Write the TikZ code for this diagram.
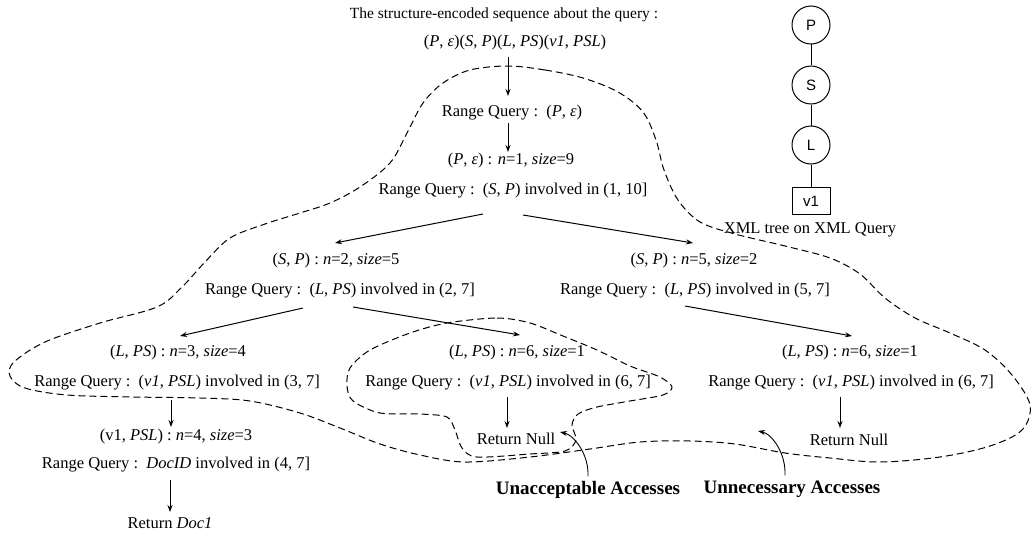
\documentclass[tikz,border=0pt]{standalone}
\usepackage{fontspec}
\setmainfont{Liberation Serif}
\newfontfamily\sansf{Liberation Sans}
\usetikzlibrary{arrows.meta,calc}
\tikzset{
  txt/.style={inner sep=0pt,font=\fontsize{16.5}{19}\selectfont,text height=11.5pt,text depth=3.5pt},
  lbl/.style={inner sep=0pt,font=\fontsize{19}{22}\selectfont\bfseries,text height=13pt,text depth=4pt},
  arr/.style={-{Stealth[length=7pt,width=5pt]},line width=1pt},
  lasso/.style={line width=1pt,dash pattern=on 7pt off 4pt},
  tnode/.style={circle,draw,line width=1pt,minimum size=38pt,inner sep=0pt,font=\sansf\fontsize{15}{17}\selectfont},
  leaf/.style={rectangle,draw,line width=1pt,minimum width=38pt,minimum height=27pt,inner sep=0pt,font=\sansf\fontsize{15}{17}\selectfont},
  edge/.style={line width=1pt}
}
\begin{document}
\begin{tikzpicture}[x=1pt,y=-1pt]
\useasboundingbox (0,0) rectangle (1034,543);
% texts
\node[txt,font=\fontsize{15.5}{18}\selectfont] (title) at (504,15) {The structure-encoded sequence about the query :};
\node[txt] (seq) at (515,43) {(\textit{P}, \textit{ε})(\textit{S}, \textit{P})(\textit{L}, \textit{PS})(\textit{v1}, \textit{PSL})};
\node[txt] (rq0) at (512,113) {Range Query :\ \ (\textit{P}, \textit{ε})};
\node[txt] (n1) at (511,160) {(\textit{P}, \textit{ε}) : \textit{n}=1, \textit{size}=9};
\node[txt] (rq1) at (513,190) {Range Query :\ \ (\textit{S}, \textit{P}) involved in (1, 10]};
\node[txt] (sp2) at (336,260) {(\textit{S}, \textit{P}) : \textit{n}=2, \textit{size}=5};
\node[txt] (rqL) at (340,290) {Range Query :\ \ (\textit{L}, \textit{PS}) involved in (2, 7]};
\node[txt] (sp5) at (694,260) {(\textit{S}, \textit{P}) : \textit{n}=5, \textit{size}=2};
\node[txt] (rqR) at (695,290) {Range Query :\ \ (\textit{L}, \textit{PS}) involved in (5, 7]};
\node[txt] (lpsL) at (178,352) {(\textit{L}, \textit{PS}) : \textit{n}=3, \textit{size}=4};
\node[txt] (rqLL) at (177,382) {Range Query :\ \ (\textit{v1}, \textit{PSL}) involved in (3, 7]};
\node[txt] (lpsM) at (517,352) {(\textit{L}, \textit{PS}) : \textit{n}=6, \textit{size}=1};
\node[txt] (rqM) at (508,382) {Range Query :\ \ (\textit{v1}, \textit{PSL}) involved in (6, 7]};
\node[txt] (lpsR) at (850,352) {(\textit{L}, \textit{PS}) : \textit{n}=6, \textit{size}=1};
\node[txt] (rqR2) at (851,382) {Range Query :\ \ (\textit{v1}, \textit{PSL}) involved in (6, 7]};
\node[txt] (v1n) at (176,436) {(v1, \textit{PSL}) : \textit{n}=4, \textit{size}=3};
\node[txt] (docq) at (176,464) {Range Query :\ \ \textit{DocID} involved in (4, 7]};
\node[txt] (doc1) at (170,524) {Return \textit{Doc1}};
\node[txt] (nullM) at (516,440) {Return Null};
\node[txt] (nullR) at (849,441) {Return Null};
\node[lbl] (unacc) at (588,490) {Unacceptable Accesses};
\node[lbl] (unnec) at (792,489) {Unnecessary Accesses};
% arrows
\draw[arr] ($(seq.center)+(-7,14)$) -- ($(rq0.center)+(-4,-17)$);
\draw[arr] ($(rq0.center)+(-4,10)$) -- ($(n1.center)+(-3,-8)$);
\draw[arr] ($(rq1.center)+(-30,24)$) -- ($(sp2.center)+(-1,-17)$);
\draw[arr] ($(rq1.center)+(10,25)$) -- ($(sp5.center)+(-1,-17)$);
\draw[arr] ($(rqL.center)+(-37,18)$) -- ($(lpsL.center)+(2,-16)$);
\draw[arr] ($(rqL.center)+(13,17)$) -- ($(lpsM.center)+(3,-17)$);
\draw[arr] ($(rqR.center)+(-10,16)$) -- ($(lpsR.center)+(2,-16)$);
\draw[arr] ($(rqLL.center)+(-6,18)$) -- ($(v1n.center)+(-5,-9)$);
\draw[arr] ($(rqM.center)+(-1,15)$) -- ($(nullM.center)+(-9,-12)$);
\draw[arr] ($(rqR2.center)+(-11,15)$) -- ($(nullR.center)+(-9,-13)$);
\draw[arr] ($(docq.center)+(-6,16)$) -- ($(doc1.center)+(0,-12)$);
% XML tree
\node[tnode] (P) at (811,25) {P};
\node[tnode] (S) at (811,85) {S};
\node[tnode] (L) at (811,145) {L};
\node[leaf] (V) at (811,201) {v1};
\draw[edge] (P) -- (S) (S) -- (L) (L) -- (V);
\node[txt] (xml) at (810,229) {XML tree on XML Query};
% big dashed region
\draw[lasso] plot[smooth cycle,tension=0.55] coordinates {
 (508,66) (545,70) (583,78) (618,92) (643,112) (656,140) (664,170) (678,200)
 (700,222) (735,234) (785,246) (830,258) (860,274) (885,298) (915,318) (950,333)
 (985,350) (1012,375) (1030,405) (1022,430) (990,446) (940,457) (880,462) (830,458)
 (785,453) (735,444) (690,441) (640,442) (590,449) (530,457) (465,462) (420,455)
 (380,444) (340,428) (300,413) (250,401) (200,398) (133,397) (67,395) (25,388)
 (10,376) (14,362) (45,342) (100,323) (157,307) (182,287) (205,262) (230,238)
 (265,224) (300,213) (330,203) (360,187) (390,163) (407,133) (423,103) (443,83) (470,70)};
% small dashed region
\draw[lasso] plot[smooth cycle,tension=0.5] coordinates {
 (447,323) (497,318) (530,323) (563,336) (597,350) (630,366) (660,377) (672,387)
 (663,395) (630,401) (597,407) (578,414) (572,425) (576,440) (565,451) (530,454)
 (477,457) (462,448) (455,430) (447,417) (420,414) (380,413) (353,401) (347,386)
 (350,368) (370,350) (410,333)};
% pointers
\coordinate (pA) at (560,432);
\coordinate (pB) at (758,431);
\draw[arr,line width=0.9pt] ($(unacc.north)+(0,-5)$) .. controls +(1,-22) and +(14,3) .. (pA);
\draw[arr,line width=0.9pt] ($(unnec.north)+(-7,-5)$) .. controls +(1,-22) and +(14,3) .. (pB);
\end{tikzpicture}
\end{document}
